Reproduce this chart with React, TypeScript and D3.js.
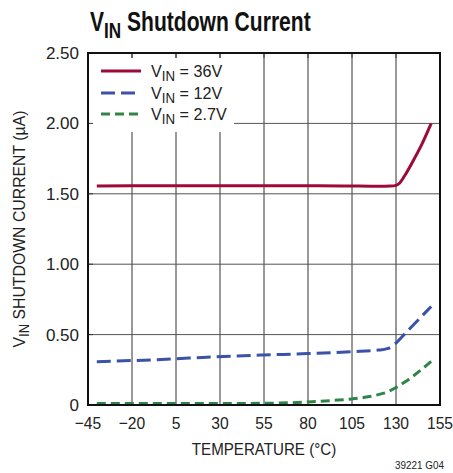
import React from "react";
import * as d3 from "d3";

const xTicks = [-45, -20, 5, 30, 55, 80, 105, 130, 155];
const yTicks = [0, 0.5, 1.0, 1.5, 2.0, 2.5];
const yTickLabels = ["0", "0.50", "1.00", "1.50", "2.00", "2.50"];

const temp36 = [-40, 0, 50, 100, 120, 127, 130, 132, 135, 140, 145, 150];
const val36 = [1.556, 1.557, 1.558, 1.556, 1.553, 1.555, 1.56, 1.575, 1.63, 1.74, 1.86, 2.0];

const temp12 = [-40, 5, 20, 55, 80, 105, 120, 125, 128, 130, 135, 140, 145, 150];
const val12 = [0.308, 0.328, 0.338, 0.355, 0.365, 0.379, 0.39, 0.4, 0.418, 0.44, 0.505, 0.57, 0.635, 0.70];

const temp27 = [-40, 0, 30, 55, 70, 80, 95, 105, 115, 120, 125, 130, 135, 140, 145, 150];
const val27 = [0.01, 0.01, 0.01, 0.012, 0.016, 0.022, 0.033, 0.043, 0.06, 0.074, 0.092, 0.124, 0.163, 0.208, 0.257, 0.31];

const series = [
  { name: "36V", temps: temp36, vals: val36, color: "#9e0a38", dash: "" },
  { name: "12V", temps: temp12, vals: val12, color: "#3a52a8", dash: "14 6" },
  { name: "2.7V", temps: temp27, vals: val27, color: "#2e8547", dash: "9 5" },
];

const FONT = "'Liberation Sans', Arial, Helvetica, sans-serif";

export default function App() {
  const L = 88, R = 440, T = 53, B = 405;
  const x = d3.scaleLinear().domain([-45, 155]).range([L, R]);
  const y = d3.scaleLinear().domain([0, 2.5]).range([B, T]);
  const line = d3
    .line<[number, number]>()
    .x((d) => x(d[0]))
    .y((d) => y(d[1]))
    .curve(d3.curveMonotoneX);

  const legendRows = [71, 93, 114];

  return (
    <svg
      width={453}
      height={473}
      style={{ position: "absolute", left: 0, top: 0, background: "#fff" }}
      fontFamily={FONT}
    >
      <rect x={0} y={0} width={453} height={473} fill="#fff" />
      {/* Title */}
      <text transform="translate(90,31) scale(0.78,1)" fontSize={27} fontWeight="bold" fill="#111">
        V<tspan fontSize={22} dy={7}>IN</tspan>
        <tspan dy={-7}> Shutdown Current</tspan>
      </text>

      {/* grid */}
      {xTicks.slice(1, -1).map((t) => (
        <line key={"gx" + t} x1={x(t)} x2={x(t)} y1={T} y2={B} stroke="#333" strokeWidth={1} />
      ))}
      {yTicks.slice(1, -1).map((t) => (
        <line key={"gy" + t} x1={L} x2={R} y1={y(t)} y2={y(t)} stroke="#555" strokeWidth={1} />
      ))}

      {/* legend box covering grid */}
      <rect x={89} y={58} width={145} height={74} fill="#fff" />

      {/* inward ticks */}
      {xTicks.slice(1, -1).map((t) => (
        <line key={"tx" + t} x1={x(t)} x2={x(t)} y1={T} y2={T + 5} stroke="#333" strokeWidth={1} />
      ))}
      {yTicks.slice(1, -1).map((t) => (
        <line key={"ty" + t} x1={L} x2={L + 5} y1={y(t)} y2={y(t)} stroke="#333" strokeWidth={1} />
      ))}

      {/* data lines */}
      {series.map((s) => (
        <path
          key={s.name}
          d={line(s.temps.map((t, i) => [t, s.vals[i]] as [number, number])) || ""}
          fill="none"
          stroke={s.color}
          strokeWidth={3}
          strokeDasharray={s.dash}
        />
      ))}

      {/* frame */}
      <rect x={L} y={T} width={R - L} height={B - T} fill="none" stroke="#111" strokeWidth={2} />

      {/* legend */}
      {series.map((s, i) => (
        <g key={"lg" + s.name}>
          <line x1={101} x2={141} y1={legendRows[i]} y2={legendRows[i]} stroke={s.color} strokeWidth={3} strokeDasharray={s.dash} />
          <text transform={`translate(151,${legendRows[i] + 6}) scale(0.95,1)`} fontSize={17} fill="#222">
            V<tspan fontSize={14} dy={4}>IN</tspan>
            <tspan dy={-4}> = {s.name}</tspan>
          </text>
        </g>
      ))}

      {/* y tick labels */}
      {yTicks.map((t, i) => (
        <text key={"yl" + t} x={79} y={y(t) + 6} fontSize={17} textAnchor="end" fill="#222">
          {yTickLabels[i]}
        </text>
      ))}
      {/* x tick labels */}
      {xTicks.map((t) => (
        <text key={"xl" + t} transform={`translate(${x(t)},429) scale(0.92,1)`} fontSize={17} textAnchor="middle" fill="#222">
          {t < 0 ? "\u2212" + Math.abs(t) : String(t)}
        </text>
      ))}

      {/* axis titles */}
      <text transform="translate(264,455) scale(0.89,1)" fontSize={17} textAnchor="middle" fill="#222">
        TEMPERATURE (°C)
      </text>
      <text transform="translate(25,229) rotate(-90) scale(0.93,1)" fontSize={17} textAnchor="middle" fill="#222">
        V<tspan fontSize={14} dy={4}>IN</tspan>
        <tspan dy={-4}> SHUTDOWN CURRENT (µA)</tspan>
      </text>

      {/* footnote */}
      <text transform="translate(444,469) scale(0.9,1)" fontSize={11} textAnchor="end" fill="#222">
        39221 G04
      </text>
    </svg>
  );
}
